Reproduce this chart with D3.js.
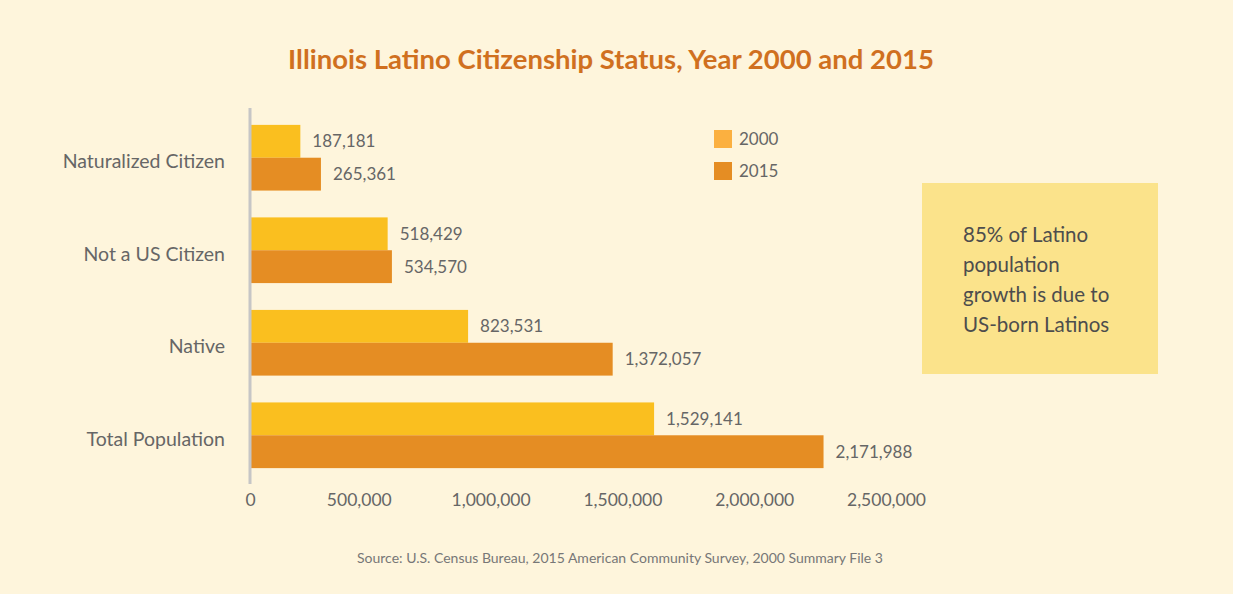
<!DOCTYPE html>
<html>
<head>
<meta charset="utf-8">
<script src="https://cdn.jsdelivr.net/npm/d3@7"></script>
<style>
  body { margin: 0; background: #fef5dc; }
  text { font-family: Lato, "Noto Sans", sans-serif; }
</style>
</head>
<body>
<script>
// Data
var categories = ["Naturalized Citizen", "Not a US Citizen", "Native", "Total Population"];
var years = ["2000", "2015"];
var values2000 = [187181, 518429, 823531, 1529141];
var values2015 = [265361, 534570, 1372057, 2171988];
var xTicks = [0, 500000, 1000000, 1500000, 2000000, 2500000];
var calloutLines = ["85% of Latino", "population", "growth is due to", "US-born Latinos"];

var barColors = {"2000": "#fabf1f", "2015": "#e58d23"};
var legendColors = {"2000": "#fbb040", "2015": "#e58d23"};

var width = 1233, height = 594;

var svg = d3.select("body")
    .append("svg")
        .attr("width", width)
        .attr("height", height);

svg.append("rect")
    .attr("width", width)
    .attr("height", height)
    .attr("fill", "#fef5dc");

// Scales
var x = d3.scaleLinear()
    .domain([0, 2500000])
    .range([251, 910]);

var y = d3.scaleBand()
    .domain(categories)
    .range([111, 482])
    .paddingInner(0.29)
    .paddingOuter(0.15);

var yInner = d3.scaleBand()
    .domain(years)
    .range([0, y.bandwidth()]);

var rows = categories.map(function(c, i) {
    return {category: c, values: [
        {year: "2000", value: values2000[i]},
        {year: "2015", value: values2015[i]}
    ]};
});

// Title
svg.append("text")
    .attr("x", 611)
    .attr("y", 69)
    .attr("text-anchor", "middle")
    .attr("font-size", 27.5)
    .attr("font-weight", "bold")
    .attr("fill", "#d0701f")
    .text("Illinois Latino Citizenship Status, Year 2000 and 2015");

// Bars
var groups = svg.selectAll(".group")
    .data(rows)
  .enter().append("g")
    .attr("class", "group")
    .attr("transform", function(d) { return "translate(0," + y(d.category) + ")"; });

groups.selectAll("rect")
    .data(function(d) { return d.values; })
  .enter().append("rect")
    .attr("x", x(0))
    .attr("y", function(d) { return yInner(d.year); })
    .attr("width", function(d) { return x(d.value) - x(0); })
    .attr("height", yInner.bandwidth())
    .attr("fill", function(d) { return barColors[d.year]; });

groups.selectAll(".val")
    .data(function(d) { return d.values; })
  .enter().append("text")
    .attr("class", "val")
    .attr("x", function(d) { return x(d.value) + 12; })
    .attr("y", function(d) { return yInner(d.year) + yInner.bandwidth() / 2; })
    .attr("dy", "0.35em")
    .attr("font-size", 17)
    .attr("fill", "#666")
    .text(function(d) { return d3.format(",")(d.value); });

// Y axis
var yAxis = d3.axisLeft(y).tickSize(0).tickPadding(26);
var yg = svg.append("g")
    .attr("transform", "translate(" + x(0) + ",0)")
    .call(yAxis);
yg.select(".domain").remove();
yg.selectAll("text")
    .attr("font-size", 19.5)
    .attr("fill", "#666")
    .attr("dy", "0.55em")
    .style("font-family", "Lato, 'Noto Sans', sans-serif");

svg.append("line")
    .attr("x1", x(0) - 1).attr("x2", x(0) - 1)
    .attr("y1", 108).attr("y2", 484)
    .attr("stroke", "#c6c6c6")
    .attr("stroke-width", 3);

// X axis
var xAxis = d3.axisBottom(x)
    .tickValues(xTicks)
    .tickSize(0)
    .tickPadding(4)
    .tickFormat(d3.format(","));
var xg = svg.append("g")
    .attr("transform", "translate(0,490)")
    .call(xAxis);
xg.select(".domain").remove();
xg.selectAll("text")
    .attr("font-size", 17.5)
    .attr("fill", "#666")
    .attr("dx", function(d) { return d === 0 ? -1 : -24; })
    .style("font-family", "Lato, 'Noto Sans', sans-serif");

// Legend
var legend = svg.selectAll(".legend")
    .data(years)
  .enter().append("g")
    .attr("class", "legend")
    .attr("transform", function(d, i) { return "translate(714," + (130 + i * 32) + ")"; });

legend.append("rect")
    .attr("width", 18)
    .attr("height", 18)
    .attr("fill", function(d) { return legendColors[d]; });

legend.append("text")
    .attr("x", 25)
    .attr("y", 9)
    .attr("dy", "0.35em")
    .attr("font-size", 17)
    .attr("fill", "#666")
    .text(function(d) { return d; });

// Callout box
svg.append("rect")
    .attr("x", 922)
    .attr("y", 183)
    .attr("width", 236)
    .attr("height", 191)
    .attr("fill", "#fbe38b");

svg.append("g").selectAll("text")
    .data(calloutLines)
  .enter().append("text")
    .attr("x", 963)
    .attr("y", function(d, i) { return 242 + i * 30; })
    .attr("font-size", 20.5)
    .attr("fill", "#4d4d4d")
    .text(function(d) { return d; });

// Source
svg.append("text")
    .attr("x", 620)
    .attr("y", 563)
    .attr("text-anchor", "middle")
    .attr("font-size", 14)
    .attr("fill", "#777")
    .text("Source: U.S. Census Bureau, 2015 American Community Survey, 2000 Summary File 3");
</script>
</body>
</html>
